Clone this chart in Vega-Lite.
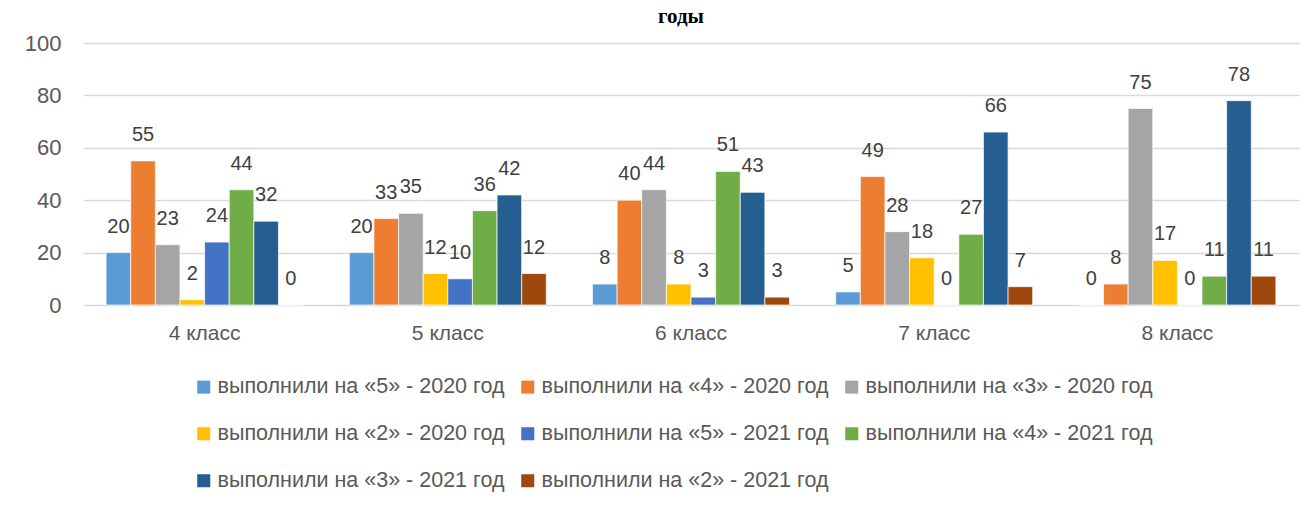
{
  "$schema": "https://vega.github.io/schema/vega-lite/v6.json",
  "width": 1216,
  "height": 262,
  "autosize": {"type": "none"},
  "padding": {"left": 83, "top": 43, "right": 15, "bottom": 201},
  "background": "white",
  "config": {"view": {"stroke": null}, "font": "Liberation Sans"},
  "title": {"text": "годы", "font": "Liberation Serif", "fontSize": 21, "fontWeight": "bold", "color": "#000000", "anchor": "middle", "baseline": "alphabetic", "offset": 0, "dy": 12, "dx": -10},
  "data": {"values": [
    {"cls": "4 класс", "series": "выполнили на «5» - 2020 год", "value": 20},
    {"cls": "4 класс", "series": "выполнили на «4» - 2020 год", "value": 55},
    {"cls": "4 класс", "series": "выполнили на «3» - 2020 год", "value": 23},
    {"cls": "4 класс", "series": "выполнили на «2» - 2020 год", "value": 2},
    {"cls": "4 класс", "series": "выполнили на «5» - 2021 год", "value": 24},
    {"cls": "4 класс", "series": "выполнили на «4» - 2021 год", "value": 44},
    {"cls": "4 класс", "series": "выполнили на «3» - 2021 год", "value": 32},
    {"cls": "4 класс", "series": "выполнили на «2» - 2021 год", "value": 0},
    {"cls": "5 класс", "series": "выполнили на «5» - 2020 год", "value": 20},
    {"cls": "5 класс", "series": "выполнили на «4» - 2020 год", "value": 33},
    {"cls": "5 класс", "series": "выполнили на «3» - 2020 год", "value": 35},
    {"cls": "5 класс", "series": "выполнили на «2» - 2020 год", "value": 12},
    {"cls": "5 класс", "series": "выполнили на «5» - 2021 год", "value": 10},
    {"cls": "5 класс", "series": "выполнили на «4» - 2021 год", "value": 36},
    {"cls": "5 класс", "series": "выполнили на «3» - 2021 год", "value": 42},
    {"cls": "5 класс", "series": "выполнили на «2» - 2021 год", "value": 12},
    {"cls": "6 класс", "series": "выполнили на «5» - 2020 год", "value": 8},
    {"cls": "6 класс", "series": "выполнили на «4» - 2020 год", "value": 40},
    {"cls": "6 класс", "series": "выполнили на «3» - 2020 год", "value": 44},
    {"cls": "6 класс", "series": "выполнили на «2» - 2020 год", "value": 8},
    {"cls": "6 класс", "series": "выполнили на «5» - 2021 год", "value": 3},
    {"cls": "6 класс", "series": "выполнили на «4» - 2021 год", "value": 51},
    {"cls": "6 класс", "series": "выполнили на «3» - 2021 год", "value": 43},
    {"cls": "6 класс", "series": "выполнили на «2» - 2021 год", "value": 3},
    {"cls": "7 класс", "series": "выполнили на «5» - 2020 год", "value": 5},
    {"cls": "7 класс", "series": "выполнили на «4» - 2020 год", "value": 49},
    {"cls": "7 класс", "series": "выполнили на «3» - 2020 год", "value": 28},
    {"cls": "7 класс", "series": "выполнили на «2» - 2020 год", "value": 18},
    {"cls": "7 класс", "series": "выполнили на «5» - 2021 год", "value": 0},
    {"cls": "7 класс", "series": "выполнили на «4» - 2021 год", "value": 27},
    {"cls": "7 класс", "series": "выполнили на «3» - 2021 год", "value": 66},
    {"cls": "7 класс", "series": "выполнили на «2» - 2021 год", "value": 7},
    {"cls": "8 класс", "series": "выполнили на «5» - 2020 год", "value": 0},
    {"cls": "8 класс", "series": "выполнили на «4» - 2020 год", "value": 8},
    {"cls": "8 класс", "series": "выполнили на «3» - 2020 год", "value": 75},
    {"cls": "8 класс", "series": "выполнили на «2» - 2020 год", "value": 17},
    {"cls": "8 класс", "series": "выполнили на «5» - 2021 год", "value": 0},
    {"cls": "8 класс", "series": "выполнили на «4» - 2021 год", "value": 11},
    {"cls": "8 класс", "series": "выполнили на «3» - 2021 год", "value": 78},
    {"cls": "8 класс", "series": "выполнили на «2» - 2021 год", "value": 11}
  ]},
  "encoding": {
    "x": {"field": "cls", "type": "nominal", "title": null,
      "scale": {"paddingInner": 0.19, "paddingOuter": 0.095},
      "axis": {"labelAngle": 0, "labelFontSize": 21, "labelColor": "#595959", "domain": false, "ticks": false, "labelPadding": 17}},
    "xOffset": {"field": "series", "type": "nominal",
      "sort": ["выполнили на «5» - 2020 год", "выполнили на «4» - 2020 год", "выполнили на «3» - 2020 год", "выполнили на «2» - 2020 год", "выполнили на «5» - 2021 год", "выполнили на «4» - 2021 год", "выполнили на «3» - 2021 год", "выполнили на «2» - 2021 год"],
      "scale": {"paddingInner": 0, "paddingOuter": 0}},
    "y": {"field": "value", "type": "quantitative", "title": null,
      "scale": {"domain": [0, 100]},
      "axis": {"values": [0, 20, 40, 60, 80, 100], "labelFontSize": 22, "labelColor": "#595959", "domain": false, "ticks": false, "labelPadding": 22, "gridColor": "#d9d9d9", "gridWidth": 1.5}}
  },
  "layer": [
    {
      "mark": {"type": "bar", "stroke": "white", "strokeWidth": 0.7},
      "encoding": {
        "color": {"field": "series", "type": "nominal", "title": null,
          "sort": ["выполнили на «5» - 2020 год", "выполнили на «4» - 2020 год", "выполнили на «3» - 2020 год", "выполнили на «2» - 2020 год", "выполнили на «5» - 2021 год", "выполнили на «4» - 2021 год", "выполнили на «3» - 2021 год", "выполнили на «2» - 2021 год"],
          "scale": {"domain": ["выполнили на «5» - 2020 год", "выполнили на «4» - 2020 год", "выполнили на «3» - 2020 год", "выполнили на «2» - 2020 год", "выполнили на «5» - 2021 год", "выполнили на «4» - 2021 год", "выполнили на «3» - 2021 год", "выполнили на «2» - 2021 год"],
            "range": ["#5B9BD5", "#ED7D31", "#A5A5A5", "#FFC000", "#4472C4", "#70AD47", "#255E91", "#9E480E"]},
          "legend": {"orient": "none", "legendX": 110, "legendY": 333, "columns": 3, "direction": "horizontal",
            "symbolType": "square", "symbolSize": 170, "symbolStrokeWidth": 0, "labelFontSize": 21.5, "labelColor": "#595959",
            "labelLimit": 400, "labelOffset": 3, "columnPadding": 12, "rowPadding": 24}}
      }
    },
    {
      "mark": {"type": "text", "baseline": "bottom", "dy": -16, "fontSize": 20, "color": "#404040"},
      "encoding": {"text": {"field": "value", "type": "quantitative"}}
    }
  ]
}
